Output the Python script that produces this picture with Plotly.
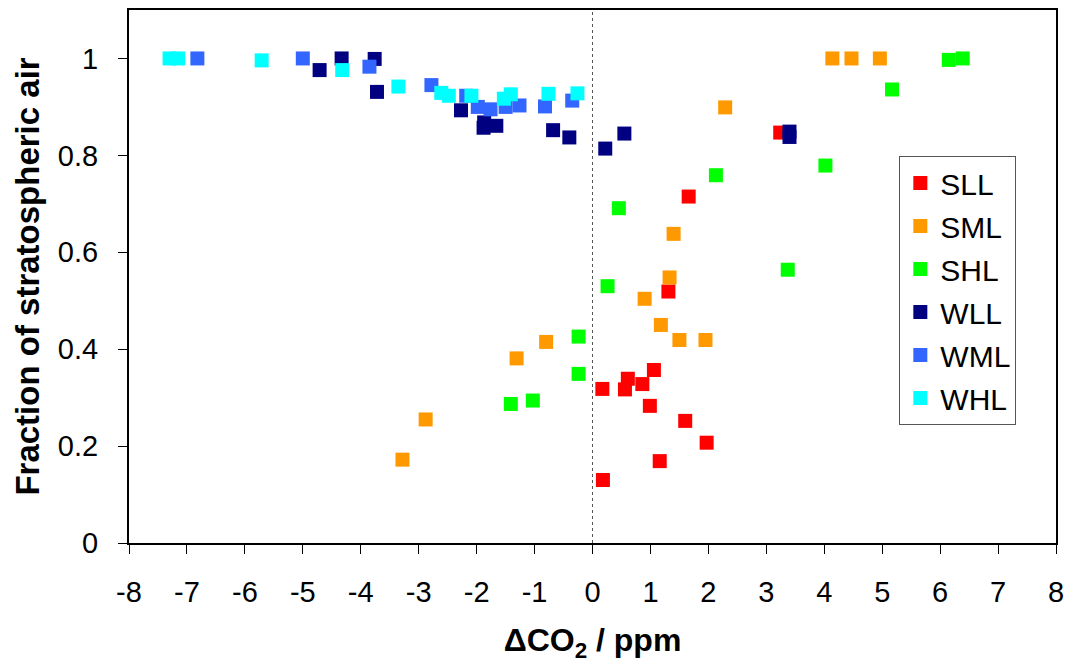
import plotly.graph_objects as go

series_names = ["SLL", "SML", "SHL", "WLL", "WML", "WHL"]
series_colors = ["#FF0000", "#FF9900", "#00FF00", "#000080", "#3366FF", "#00FFFF"]

sll_x = [3.24, 1.66, 1.31, 1.06, 0.61, 0.86, 0.17, 0.56, 0.99, 1.60, 1.97, 1.16, 0.18]
sll_y = [0.847, 0.715, 0.519, 0.357, 0.339, 0.328, 0.318, 0.317, 0.283, 0.252, 0.207, 0.169, 0.130]

sml_x = [4.14, 4.47, 4.96, 2.29, 1.40, 1.33, 0.90, 1.18, 1.50, 1.95, -0.80, -1.31, -2.88, -3.28]
sml_y = [1.0, 1.0, 1.0, 0.899, 0.638, 0.548, 0.504, 0.450, 0.419, 0.419, 0.415, 0.381, 0.255, 0.172]

shl_x = [6.15, 6.39, 5.17, 4.02, 2.13, 0.455, 3.37, 0.26, -0.24, -0.24, -1.03, -1.41]
shl_y = [0.997, 1.0, 0.936, 0.779, 0.759, 0.691, 0.564, 0.530, 0.426, 0.349, 0.294, 0.287]

wll_x = [-4.71, -4.33, -3.76, -3.72, -2.27, -1.87, -1.88, -1.66, -0.68, -0.40, 0.22, 0.55, 3.40, 3.40]
wll_y = [0.976, 1.0, 0.999, 0.931, 0.893, 0.868, 0.857, 0.861, 0.852, 0.837, 0.814, 0.845, 0.849, 0.838]

wml_x = [-6.82, -5.0, -3.85, -2.78, -2.18, -1.98, -1.76, -1.50, -1.26, -0.82, -0.35]
wml_y = [1.0, 1.0, 0.983, 0.945, 0.923, 0.900, 0.895, 0.900, 0.903, 0.901, 0.913]

whl_x = [-7.30, -7.15, -5.71, -4.32, -3.35, -2.61, -2.48, -2.09, -1.53, -1.41, -0.76, -0.26]
whl_y = [1.0, 1.0, 0.996, 0.976, 0.942, 0.929, 0.923, 0.923, 0.917, 0.926, 0.927, 0.928]

x_ticks = list(range(-8, 9))
y_ticks = [0, 0.2, 0.4, 0.6, 0.8, 1]
y_ticklabels = ["0", "0.2", "0.4", "0.6", "0.8", "1"]

all_x = [sll_x, sml_x, shl_x, wll_x, wml_x, whl_x]
all_y = [sll_y, sml_y, shl_y, wll_y, wml_y, whl_y]

FONT = "Liberation Sans, Arial, sans-serif"

fig = go.Figure()
for name, color, xs, ys in zip(series_names, series_colors, all_x, all_y):
    fig.add_trace(go.Scatter(
        x=xs, y=ys, mode="markers", name=name, legendgroup=name,
        marker=dict(symbol="square", size=14, color=color,
                    line=dict(width=0)),
    ))

fig.add_shape(type="line", x0=0, x1=0, y0=0, y1=1.1, xref="x", yref="y",
              line=dict(color="#555555", width=1, dash="dot"), layer="below")

fig.update_layout(
    width=1065, height=664,
    margin=dict(l=129, r=9, t=10, b=121),
    paper_bgcolor="white", plot_bgcolor="white",
    font=dict(family=FONT, size=29, color="black"),
    showlegend=True,
    legend=dict(
        x=0.831, y=0.726, xanchor="left", yanchor="top",
        bordercolor="#555555", borderwidth=1, bgcolor="white",
        font=dict(family=FONT, size=30, color="black"),
        tracegroupgap=1,
    ),
    xaxis=dict(
        range=[-8, 8], tickmode="array", tickvals=x_ticks,
        ticktext=[str(v) for v in x_ticks],
        showline=True, linecolor="black", linewidth=2, mirror=True,
        ticks="outside", ticklen=9, tickcolor="black", tickwidth=1,
        showgrid=False, zeroline=False, ticklabelstandoff=13,
        ticklabeloverflow="allow", automargin=False,
        tickfont=dict(family=FONT, size=29),
        title=dict(text="<b>ΔCO<sub>2</sub> / ppm</b>", font=dict(family=FONT, size=32), standoff=22),
    ),
    yaxis=dict(
        range=[0, 1.1], tickmode="array", tickvals=y_ticks, ticktext=y_ticklabels,
        showline=True, linecolor="black", linewidth=2, mirror=True,
        ticks="outside", ticklen=9, tickcolor="black", tickwidth=1,
        showgrid=False, zeroline=False, ticklabelstandoff=14,
        automargin=False,
        tickfont=dict(family=FONT, size=29),
        title=dict(text="<b>Fraction of stratospheric air</b>", font=dict(family=FONT, size=33), standoff=8),
    ),
)

fig.write_html("out.html", config={"displayModeBar": False},
               post_script="document.body.style.margin='0px';")
